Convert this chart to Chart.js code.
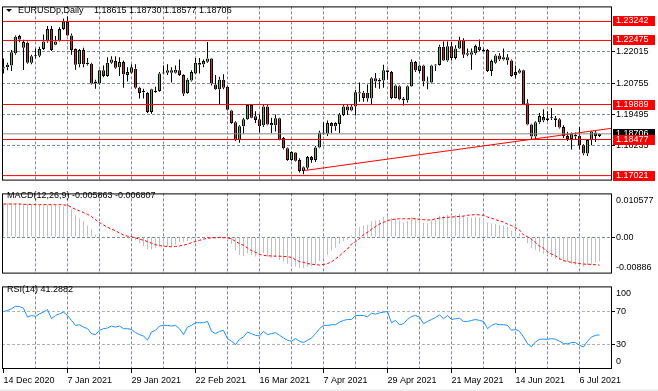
<!DOCTYPE html>
<html>
<head>
<meta charset="utf-8">
<script src="https://cdn.jsdelivr.net/npm/chart.js@4.4.1/dist/chart.umd.min.js"></script>
<style>
  html, body { margin: 0; padding: 0; background: #fff; }
  #wrap { position: relative; width: 658px; height: 391px; overflow: hidden; background: #fff; }
  #wrap canvas { position: absolute; left: 0; }
  #strip { position: absolute; left: 0; top: 389px; width: 658px; height: 2px; background: #f0f0f0; }
</style>
</head>
<body>
<div id="wrap">
  <canvas id="price" width="658" height="187" style="top:0"></canvas>
  <canvas id="macd" width="658" height="93" style="top:187px"></canvas>
  <canvas id="rsi" width="658" height="111" style="top:280px"></canvas>
  <div id="strip"></div>
</div>
<script>
// EURUSDp daily, 14 Dec 2020 .. mid Jul 2021 (one entry per bar)
const opens = [
  1.2139,1.2139,1.2146,1.2196,1.2266,1.2218,1.2238,1.2158,1.2184,1.2186,
  1.2213,1.2243,1.2294,1.2230,1.2247,1.2294,1.2323,1.2268,1.2213,1.2152,
  1.2209,1.2158,1.2154,1.2082,1.2074,1.2127,1.2104,1.2158,1.2165,1.2139,
  1.2161,1.2108,1.2117,1.2133,1.2057,1.2044,1.2035,1.1959,1.2044,1.2044,
  1.2114,1.2117,1.2127,1.2117,1.2127,1.2108,1.2035,1.2086,1.2114,1.2149,
  1.2152,1.2162,1.2175,1.2070,1.2051,1.2089,1.2061,1.1965,1.1917,1.1848,
  1.1901,1.1930,1.1987,1.1942,1.1930,1.1905,1.1981,1.1914,1.1905,1.1934,
  1.1854,1.1812,1.1765,1.1795,1.1765,1.1721,1.1734,1.1777,1.1765,1.1816,
  1.1876,1.1871,1.1914,1.1901,1.1910,1.1947,1.1981,1.1965,1.1981,1.2038,
  1.2036,1.2036,1.2013,1.2095,1.2089,1.2086,1.2127,1.2120,1.2015,1.2063,
  1.2013,1.2006,1.2063,1.2161,1.2124,1.2146,1.2082,1.2078,1.2146,1.2148,
  1.2222,1.2167,1.2224,1.2177,1.2215,1.2247,1.2196,1.2190,1.2196,1.2222,
  1.2209,1.2209,1.2124,1.2158,1.2187,1.2180,1.2180,1.2167,1.2120,1.2117,
  1.2127,1.1994,1.1908,1.1860,1.1917,1.1939,1.1926,1.1934,1.1934,1.1930,
  1.1898,1.1862,1.1850,1.1867,1.1863,1.1825,1.1791,1.1846,1.1876,1.18615
];
const highs = [
  1.2175,1.2158,1.2209,1.2268,1.2271,1.2250,1.2243,1.2190,1.2215,1.2222,
  1.2272,1.2306,1.2306,1.2266,1.2301,1.2336,1.2344,1.2276,1.2215,1.2213,
  1.2218,1.2177,1.2158,1.2089,1.2129,1.2146,1.2180,1.2184,1.2184,1.2180,
  1.2167,1.2139,1.2152,1.2152,1.2061,1.2053,1.2038,1.2053,1.2061,1.2120,
  1.2146,1.2152,1.2139,1.2146,1.2171,1.2111,1.2095,1.2127,1.2177,1.2177,
  1.2171,1.2241,1.2177,1.2108,1.2101,1.2111,1.2066,1.1968,1.1921,1.1905,
  1.1936,1.1990,1.1990,1.1962,1.1949,1.1987,1.1987,1.1936,1.1949,1.1936,
  1.1858,1.1815,1.1800,1.1797,1.1772,1.1739,1.1781,1.1781,1.1822,1.1883,
  1.1917,1.1924,1.1917,1.1917,1.1955,1.1987,1.1990,1.1990,1.2048,1.2078,
  1.2044,1.2070,1.2099,1.2116,1.2095,1.2149,1.2129,1.2124,1.2070,1.2066,
  1.2019,1.2066,1.2171,1.2165,1.2149,1.2149,1.2101,1.2149,1.2152,1.2230,
  1.2243,1.2243,1.2241,1.2228,1.2262,1.2256,1.2215,1.2215,1.2230,1.2251,
  1.2215,1.2213,1.2171,1.2192,1.2196,1.2215,1.2192,1.2171,1.2146,1.2133,
  1.2129,1.2010,1.1911,1.1921,1.1955,1.1970,1.1962,1.1975,1.1943,1.1934,
  1.1905,1.1879,1.1876,1.1876,1.1898,1.1829,1.1848,1.1883,1.1883,1.18730
];
const lows = [
  1.2114,1.2127,1.2124,1.2190,1.2240,1.2128,1.2154,1.2152,1.2175,1.2180,
  1.2209,1.2238,1.2205,1.2228,1.2243,1.2291,1.2266,1.2190,1.2129,1.2139,
  1.2139,1.2146,1.2070,1.2053,1.2070,1.2099,1.2101,1.2154,1.2133,1.2104,
  1.2057,1.2082,1.2114,1.2053,1.2013,1.2013,1.1955,1.1952,1.2035,1.2041,
  1.2111,1.2108,1.2078,1.2114,1.2104,1.2023,1.2032,1.2082,1.2111,1.2114,
  1.2139,1.2158,1.2066,1.2048,1.1990,1.2051,1.1965,1.1911,1.1842,1.1835,
  1.1871,1.1926,1.1934,1.1914,1.1876,1.1898,1.1905,1.1873,1.1880,1.1845,
  1.1807,1.1762,1.1762,1.1759,1.1715,1.1708,1.1726,1.1754,1.1757,1.1812,
  1.1867,1.1862,1.1873,1.1883,1.1873,1.1943,1.1947,1.1962,1.1945,1.2000,
  1.2000,1.2000,1.1990,1.2057,1.2053,1.2057,1.2089,1.2010,1.2013,1.2006,
  1.1985,1.1997,1.2061,1.2120,1.2116,1.2063,1.2051,1.2074,1.2124,1.2146,
  1.2165,1.2162,1.2167,1.2171,1.2213,1.2177,1.2184,1.2129,1.2190,1.2205,
  1.2203,1.2120,1.2104,1.2154,1.2165,1.2167,1.2149,1.2101,1.2095,1.2114,
  1.1987,1.1905,1.1848,1.1850,1.1911,1.1917,1.1921,1.1926,1.1898,1.1892,
  1.1854,1.1842,1.1807,1.1850,1.1807,1.1784,1.1781,1.1825,1.1838,1.18577
];
const closes = [
  1.2134,1.2149,1.2200,1.2263,1.2251,1.2241,1.2158,1.2184,1.2186,1.2213,
  1.2243,1.2294,1.2209,1.2243,1.2294,1.2323,1.2268,1.2209,1.2149,1.2209,
  1.2152,1.2152,1.2074,1.2074,1.2127,1.2104,1.2158,1.2171,1.2137,1.2161,
  1.2111,1.2120,1.2139,1.2057,1.2035,1.2038,1.1959,1.2051,1.2038,1.2114,
  1.2118,1.2127,1.2117,1.2129,1.2108,1.2032,1.2089,1.2120,1.2158,1.2158,
  1.2165,1.2175,1.2074,1.2051,1.2089,1.2057,1.1968,1.1914,1.1848,1.1901,
  1.1930,1.1987,1.1936,1.1926,1.1901,1.1981,1.1908,1.1905,1.1934,1.1848,
  1.1812,1.1765,1.1797,1.1762,1.1721,1.1736,1.1777,1.1765,1.1816,1.1876,
  1.1871,1.1914,1.1901,1.1914,1.1949,1.1981,1.1965,1.1981,1.2038,1.2033,
  1.2015,1.2013,1.2095,1.2082,1.2082,1.2127,1.2120,1.2015,1.2066,1.2010,
  1.2006,1.2063,1.2162,1.2127,1.2146,1.2082,1.2078,1.2146,1.2149,1.2222,
  1.2167,1.2224,1.2177,1.2215,1.2247,1.2190,1.2190,1.2200,1.2225,1.2209,
  1.2205,1.2124,1.2165,1.2187,1.2171,1.2171,1.2167,1.2104,1.2108,1.2127,
  1.1990,1.1908,1.1860,1.1917,1.1943,1.1924,1.1934,1.1936,1.1926,1.1896,
  1.1862,1.1850,1.1871,1.1860,1.1825,1.1791,1.1846,1.1880,1.1862,1.18706
];

// MACD(12,26,9): main (histogram) and signal
const macdMain = [
  0.00814,0.00828,0.00828,0.00814,0.00814,0.00800,0.00800,0.00785,0.00785,0.00778,
  0.00771,0.00778,0.00778,0.00771,0.00757,0.00743,0.00743,0.00671,0.00528,0.00457,
  0.00386,0.00278,0.00186,0.00064,0.00029,0.00014,0.00007,0.00014,0.00007,-0.00007,
  -0.00007,-0.00014,-0.00029,-0.00079,-0.00150,-0.00221,-0.00293,-0.00293,-0.00257,-0.00221,
  -0.00243,-0.00221,-0.00221,-0.00186,-0.00129,-0.00114,-0.00100,-0.00057,-0.00029,-0.00014,
  -0.00007,0.00029,-0.00007,-0.00043,-0.00029,-0.00043,-0.00079,-0.00171,-0.00328,-0.00436,
  -0.00457,-0.00400,-0.00436,-0.00471,-0.00486,-0.00400,-0.00471,-0.00507,-0.00486,-0.00557,
  -0.00600,-0.00650,-0.00685,-0.00721,-0.00743,-0.00757,-0.00721,-0.00700,-0.00650,-0.00578,
  -0.00528,-0.00436,-0.00328,-0.00257,-0.00171,-0.00100,-0.00057,0.00043,0.00207,0.00243,
  0.00278,0.00300,0.00386,0.00407,0.00421,0.00493,0.00528,0.00457,0.00443,0.00400,
  0.00350,0.00386,0.00471,0.00471,0.00457,0.00350,0.00328,0.00400,0.00421,0.00514,
  0.00514,0.00543,0.00543,0.00543,0.00557,0.00514,0.00493,0.00471,0.00493,0.00471,
  0.00457,0.00350,0.00328,0.00314,0.00300,0.00278,0.00243,0.00157,0.00114,0.00100,
  -0.00029,-0.00150,-0.00257,-0.00314,-0.00364,-0.00400,-0.00436,-0.00486,-0.00528,-0.00557,
  -0.00600,-0.00600,-0.00650,-0.00671,-0.00700,-0.00721,-0.00685,-0.00650,-0.00614,-0.005863
];
const macdSignal = [
  0.00800,0.00800,0.00800,0.00800,0.00800,0.00793,0.00793,0.00793,0.00785,0.00785,
  0.00785,0.00785,0.00785,0.00785,0.00785,0.00778,0.00771,0.00721,0.00671,0.00635,
  0.00593,0.00550,0.00500,0.00421,0.00350,0.00293,0.00236,0.00193,0.00150,0.00100,
  0.00050,0.00021,0.00007,-0.00021,-0.00050,-0.00079,-0.00107,-0.00150,-0.00186,-0.00207,
  -0.00221,-0.00228,-0.00236,-0.00228,-0.00214,-0.00200,-0.00171,-0.00136,-0.00107,-0.00079,
  -0.00050,-0.00029,-0.00021,-0.00014,-0.00007,-0.00014,-0.00021,-0.00043,-0.00107,-0.00157,
  -0.00200,-0.00264,-0.00328,-0.00371,-0.00421,-0.00443,-0.00457,-0.00457,-0.00464,-0.00464,
  -0.00471,-0.00478,-0.00493,-0.00550,-0.00593,-0.00614,-0.00643,-0.00657,-0.00671,-0.00678,
  -0.00664,-0.00643,-0.00600,-0.00528,-0.00457,-0.00364,-0.00293,-0.00171,-0.00114,-0.00043,
  0.00057,0.00114,0.00186,0.00257,0.00314,0.00357,0.00400,0.00421,0.00436,0.00443,
  0.00443,0.00443,0.00443,0.00443,0.00428,0.00421,0.00414,0.00414,0.00443,0.00457,
  0.00471,0.00478,0.00486,0.00493,0.00500,0.00507,0.00528,0.00536,0.00543,0.00536,
  0.00528,0.00486,0.00457,0.00421,0.00393,0.00364,0.00314,0.00278,0.00228,0.00171,
  0.00050,0.00007,-0.00057,-0.00129,-0.00221,-0.00271,-0.00357,-0.00414,-0.00457,-0.00521,
  -0.00571,-0.00593,-0.00614,-0.00628,-0.00643,-0.00657,-0.00657,-0.00664,-0.00671,-0.006807
];

// RSI(14)
const rsi = [
  69.6,70.8,72.8,76.0,75.6,73.6,62.8,64.8,63.6,66.8,
  68.8,72.0,60.8,64.8,66.8,68.8,64.8,58.8,52.8,53.6,
  50.8,48.8,42.8,41.6,46.8,48.8,49.6,52.0,50.8,52.0,
  48.8,48.8,48.0,44.0,41.6,40.0,34.8,44.8,46.8,52.0,
  52.8,52.8,52.0,52.8,48.8,41.6,50.8,52.8,56.0,56.0,
  56.0,57.6,45.6,42.8,45.6,46.8,36.8,33.6,29.6,36.0,
  38.8,44.8,42.8,40.8,40.0,45.6,41.6,42.8,44.0,40.8,
  37.6,34.8,33.6,36.8,33.6,32.0,34.8,37.6,42.8,48.8,
  52.8,52.8,53.6,53.6,56.8,58.8,60.0,60.0,64.8,64.8,
  64.8,63.2,67.6,66.4,68.0,68.8,69.6,56.0,58.8,53.6,
  54.8,60.0,63.6,64.8,62.8,54.8,57.6,60.0,62.4,65.6,
  60.8,64.8,60.0,60.8,61.6,57.6,57.6,58.8,60.0,58.8,
  57.6,48.8,52.8,54.8,53.6,53.6,52.8,46.8,48.0,45.6,
  38.8,30.8,26.8,32.8,36.0,36.0,36.0,36.8,36.0,33.6,
  30.8,30.4,32.0,32.0,28.8,26.8,33.6,38.8,40.8,41.2882
];

const dateLabels = ['14 Dec 2020','7 Jan 2021','29 Jan 2021','22 Feb 2021','16 Mar 2021',
                    '7 Apr 2021','29 Apr 2021','21 May 2021','14 Jun 2021','6 Jul 2021'];
const dateTickBars = [0,16,32,48,64,80,96,112,128,144];
const gridBars = [8,16,24,32,40,48,56,64,72,80,88,96,104,112,120,128,136,144];
const priceTicks = [1.22015, 1.20755, 1.19495, 1.18235];
const levelPrices = [1.23242, 1.22475, 1.19889, 1.18477, 1.17021];
const trendBars = [75, 152];
const trendPrices = [1.1722, 1.1893];

const FONT = '9px "Liberation Sans", Arial, sans-serif';
Chart.defaults.font.family = '"Liberation Sans", Arial, sans-serif';
Chart.defaults.font.size = 9;
Chart.defaults.color = '#000';

const GRID = '#7f8a96';
const LIGHT = '#b4b4b4';
const BULL = '#47bd4f', BEAR = '#c9284c';
const NONE = 'rgba(0,0,0,0)';
const X_MIN = -0.375, X_MAX = 152.125;
const last = closes.length - 1;
const bid = closes[last];
const bars = closes.map((_, i) => i);
const bodyTop = bars.map(i => Math.max(opens[i], closes[i]));
const bodyBottom = bars.map(i => Math.min(opens[i], closes[i]));

function xAxis(withLabels) {
  return {
    type: 'linear', min: X_MIN, max: X_MAX, bounds: 'data', offset: false,
    afterBuildTicks: s => { s.ticks = [0].concat(gridBars).map(v => ({ value: v })); },
    afterFit: s => { s.height = withLabels ? 22 : 0; },
    ticks: withLabels ? {
      autoSkip: false, maxRotation: 0, minRotation: 0, align: 'start', padding: 2,
      callback: v => { const k = dateTickBars.indexOf(v); return k >= 0 ? dateLabels[k] : ''; }
    } : { display: false },
    grid: {
      offset: false,
      color: c => (c.tick && c.tick.value > 0) ? GRID : NONE,
      drawTicks: withLabels, tickLength: 4, tickWidth: 1, tickBorderDash: [],
      tickColor: c => (c.tick && dateTickBars.includes(c.tick.value)) ? '#000' : NONE
    },
    border: { display: false, dash: [3, 2] }
  };
}

function yAxis(min, max, list, fmt, gridColor) {
  return {
    position: 'right', min, max, bounds: 'data',
    afterFit: s => { s.width = 46; },
    afterBuildTicks: s => { s.ticks = list.map(v => ({ value: v })); },
    ticks: { autoSkip: false, padding: 1, callback: fmt },
    grid: { color: gridColor, tickColor: '#000', tickLength: 3, tickBorderDash: [] },
    border: { display: false, dash: [3, 2] }
  };
}

const frame = {
  id: 'frame',
  afterDraw(chart) {
    const a = chart.chartArea, c = chart.ctx;
    c.save();
    c.strokeStyle = '#000';
    c.lineWidth = 1;
    c.strokeRect(a.left + 0.5, a.top + 0.5, a.right - a.left - 1, a.bottom - a.top - 1);
    c.restore();
  }
};

function textLayer(draw) {
  return {
    id: 'textLayer',
    afterDraw(chart) {
      const c = chart.ctx;
      c.save();
      c.font = FONT;
      c.textBaseline = 'middle';
      c.textAlign = 'left';
      draw(chart, c);
      c.restore();
    }
  };
}

const baseOptions = (padding) => ({
  responsive: false, animation: false, devicePixelRatio: 1, events: [],
  layout: { padding },
  plugins: { legend: { display: false }, tooltip: { enabled: false } }
});

function flatLine(price, color) {
  return {
    type: 'line', order: 0, data: [{ x: X_MIN - 1, y: price }, { x: X_MAX + 1, y: price }],
    borderColor: color, borderWidth: 1, pointRadius: 0, fill: false
  };
}

function wick(from, to) {
  return {
    order: 2, grouped: false, barThickness: 1, inflateAmount: 0,
    data: bars.map(i => ({ x: i, y: [from[i], to[i]] })),
    backgroundColor: '#000', borderWidth: 0
  };
}

// ---- price panel
new Chart(document.getElementById('price'), {
  type: 'bar',
  data: {
    datasets: [
      flatLine(bid, '#8c8c8c'),
      ...levelPrices.map(p => flatLine(p, '#ff0000')),
      {
        type: 'line', order: 0,
        data: trendBars.map((b, k) => ({ x: b, y: trendPrices[k] })),
        borderColor: '#ff0000', borderWidth: 1, pointRadius: 0, fill: false
      },
      {
        order: 1, grouped: false, barThickness: 3, minBarLength: 1, inflateAmount: 0,
        data: bars.map(i => ({ x: i, y: [opens[i], closes[i]] })),
        backgroundColor: bars.map(i => closes[i] >= opens[i] ? BULL : BEAR),
        borderColor: '#000', borderWidth: 1, borderSkipped: false
      },
      wick(bodyTop, highs),
      wick(lows, bodyBottom)
    ]
  },
  options: Object.assign(baseOptions({ left: 2, top: 2, right: 0, bottom: 0 }), {
    scales: {
      x: xAxis(false),
      y: yAxis(1.16819, 1.23850, priceTicks, v => v.toFixed(5), GRID)
    }
  }),
  plugins: [frame, textLayer((chart, c) => {
    c.fillStyle = '#000';
    c.beginPath(); c.moveTo(6, 9); c.lineTo(12, 9); c.lineTo(9, 12); c.closePath(); c.fill();
    c.fillText('EURUSDp,Daily', 18, 11);
    c.fillText([opens, highs, lows, closes].map(a => a[last].toFixed(5)).join(' '), 94, 11);
    const y = chart.scales.y;
    const box = (v, bg) => {
      const py = Math.round(y.getPixelForValue(v));
      c.fillStyle = bg;
      c.fillRect(613, py - 5, 42, 10);
      c.fillStyle = '#fff';
      c.fillText(v.toFixed(5), 616, py);
    };
    box(bid, '#000');
    levelPrices.forEach(p => box(p, '#ff0000'));
  })]
});

// ---- MACD panel
new Chart(document.getElementById('macd'), {
  type: 'bar',
  data: {
    datasets: [
      {
        type: 'line', order: 0, data: bars.map(i => ({ x: i, y: macdSignal[i] })),
        borderColor: '#ff0000', borderWidth: 1, borderDash: [3, 2], pointRadius: 0, fill: false
      },
      {
        order: 1, grouped: false, barThickness: 1, inflateAmount: 0,
        data: bars.map(i => ({ x: i, y: macdMain[i] })),
        backgroundColor: '#c0c0c0', borderWidth: 0
      }
    ]
  },
  options: Object.assign(baseOptions({ left: 2, top: 1, right: 0, bottom: 2 }), {
    scales: {
      x: xAxis(false),
      y: yAxis(-0.00886, 0.010577, [0], () => '0.00', GRID)
    }
  }),
  plugins: [frame, textLayer((chart, c) => {
    const y = chart.scales.y;
    c.fillStyle = '#000';
    c.fillText('MACD(12,26,9) ' + macdMain[last].toFixed(6) + ' ' + macdSignal[last].toFixed(6), 7, 9);
    c.fillText(y.max.toFixed(6), 616, y.top + 7);
    c.fillText(y.min.toFixed(5), 616, y.bottom - 6);
  })]
});

// ---- RSI panel
new Chart(document.getElementById('rsi'), {
  type: 'line',
  data: {
    datasets: [{
      data: bars.map(i => ({ x: i, y: rsi[i] })),
      borderColor: '#1e90ff', borderWidth: 1, pointRadius: 0, fill: false, tension: 0
    }]
  },
  options: Object.assign(baseOptions({ left: 2, top: 1, right: 0, bottom: 0 }), {
    scales: {
      x: xAxis(true),
      y: yAxis(0, 100, [70, 30], v => String(v), LIGHT)
    }
  }),
  plugins: [frame, textLayer((chart, c) => {
    const y = chart.scales.y;
    c.fillStyle = '#000';
    c.fillText('RSI(14) ' + rsi[last].toFixed(4), 7, 10);
    c.fillText(String(y.max), 616, y.top + 7);
    c.fillText(String(y.min), 616, y.bottom - 7);
  })]
});
</script>
</body>
</html>
